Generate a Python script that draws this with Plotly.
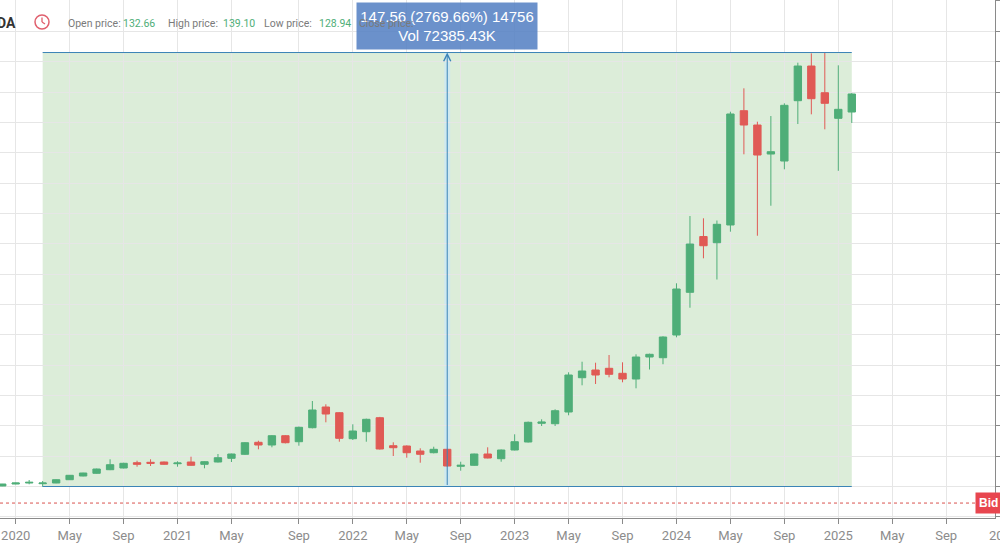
import plotly.graph_objects as go

# one slot per monthly candle (July 2021 shows up twice around the split)
periods = [
    "2019-12", "2020-01", "2020-02", "2020-03", "2020-04", "2020-05", "2020-06",
    "2020-07", "2020-08", "2020-09", "2020-10", "2020-11", "2020-12",
    "2021-01", "2021-02", "2021-03", "2021-04", "2021-05", "2021-06", "2021-07",
    "2021-07b", "2021-08", "2021-09", "2021-10", "2021-11", "2021-12",
    "2022-01", "2022-02", "2022-03", "2022-04", "2022-05", "2022-06",
    "2022-07", "2022-08", "2022-09", "2022-10", "2022-11", "2022-12",
    "2023-01", "2023-02", "2023-03", "2023-04", "2023-05", "2023-06",
    "2023-07", "2023-08", "2023-09", "2023-10", "2023-11", "2023-12",
    "2024-01", "2024-02", "2024-03", "2024-04", "2024-05", "2024-06",
    "2024-07", "2024-08", "2024-09", "2024-10", "2024-11", "2024-12",
    "2025-01", "2025-02",
]

open_ = [5.50, 6.18, 6.52, 6.28, 6.52, 7.64, 8.90, 9.82, 11.04, 11.62,
         13.42, 13.56, 13.66, 13.08, 13.66, 12.88, 13.66, 14.92, 16.28, 20.36,
         19.44, 22.60, 20.56, 25.32, 32.36, 30.42, 21.58, 23.96, 28.72, 19.20,
         19.10, 17.40, 16.82, 17.98, 12.20, 12.54, 16.38, 14.78, 17.74, 20.46,
         26.82, 26.68, 30.66, 42.32, 44.94, 45.52, 43.82, 41.88, 49.36, 49.12,
         56.84, 71.36, 90.33, 88.22, 94.25, 133.11, 128.24, 118.38, 116.00, 136.51,
         148.30, 139.22, 130.52, 132.66]
high = [6.20, 6.60, 7.54, 7.20, 7.75, 9.25, 10.00, 11.40, 14.58, 13.40,
        14.10, 14.58, 13.80, 13.90, 15.46, 13.90, 16.38, 16.50, 20.40, 20.90,
        22.80, 22.80, 25.70, 34.40, 33.28, 30.60, 26.48, 28.40, 29.00, 20.36,
        19.30, 18.32, 18.86, 18.10, 13.76, 16.50, 18.66, 17.90, 23.08, 27.40,
        28.18, 31.58, 44.16, 47.76, 47.42, 50.04, 47.56, 50.28, 50.50, 56.40,
        74.42, 97.30, 96.52, 95.77, 132.77, 140.72, 129.37, 131.30, 135.62, 149.43,
        152.60, 152.89, 148.54, 139.10]
low = [5.45, 6.10, 6.08, 5.26, 6.45, 7.55, 8.80, 9.70, 10.90, 11.50,
       12.06, 12.30, 12.75, 12.06, 12.40, 11.52, 13.50, 13.66, 16.10, 17.98,
       18.66, 20.00, 19.20, 25.10, 27.16, 20.56, 21.14, 20.56, 17.90, 15.70,
       15.12, 13.42, 16.60, 12.10, 10.70, 12.40, 14.90, 13.76, 17.60, 20.30,
       25.90, 25.90, 29.54, 39.74, 40.18, 42.46, 40.76, 38.72, 45.11, 46.91,
       56.06, 66.12, 82.92, 75.71, 91.97, 118.28, 90.60, 100.80, 113.18, 128.58,
       131.88, 126.78, 112.67, 128.94]
close = [6.18, 6.52, 6.76, 6.52, 7.64, 9.14, 9.92, 11.28, 12.74, 13.22,
         12.88, 13.22, 12.88, 13.32, 12.54, 13.76, 15.12, 16.38, 20.22, 19.44,
         22.60, 20.22, 25.46, 31.34, 29.98, 21.72, 24.20, 28.18, 18.08, 18.52,
         16.82, 16.28, 17.98, 12.30, 12.54, 16.38, 15.02, 17.74, 20.56, 27.16,
         27.26, 31.10, 43.24, 44.60, 43.24, 43.48, 41.88, 49.36, 50.28, 56.16,
         72.48, 87.78, 87.20, 94.48, 131.99, 128.24, 118.04, 119.17, 134.94, 148.30,
         137.19, 135.62, 133.58, 138.79]

# x-axis labels and the slot each one sits on
tick_slots = [1, 5, 9, 13, 17, 22, 26, 30, 34, 38, 42, 46, 50, 54, 58, 62, 66, 70]
tick_text = ["2020", "May", "Sep", "2021", "May", "Sep", "2022", "May", "Sep",
             "2023", "May", "Sep", "2024", "May", "Sep", "2025", "May", "Sep"]

# measuring tool: start/end slot and price levels
measure_slots = [3, 63]
measure_prices = [5.33, 152.89]
cursor_slot = 33
bid_level = -0.3
header = [("Open price:", "132.66"), ("High price:", "139.10"), ("Low price:", "128.94")]

GREEN = "#4fae78"
RED = "#e05a55"
BLUE = "#3b84b6"
W, H = 995, 518  # plot area in px


def px(x):
    return x / W


def py(y):
    return 1 - y / H


x = list(range(len(periods)))

fig = go.Figure()
fig.add_trace(go.Candlestick(
    x=x, open=open_, high=high, low=low, close=close, text=periods,
    increasing=dict(line=dict(color=GREEN, width=1), fillcolor=GREEN),
    decreasing=dict(line=dict(color=RED, width=1), fillcolor=RED),
    whiskerwidth=0, showlegend=False,
))

shapes = [
    dict(type="rect", xref="x", yref="y", layer="below",
         x0=measure_slots[0], x1=measure_slots[1],
         y0=measure_prices[0], y1=measure_prices[1],
         fillcolor="#dcedd9", line=dict(width=0)),
    dict(type="rect", xref="x", yref="y", layer="below",
         x0=cursor_slot - 0.22, x1=cursor_slot + 0.22,
         y0=measure_prices[0], y1=measure_prices[1],
         fillcolor="#cfe9ef", line=dict(width=0)),
    dict(type="line", xref="x", yref="y", x0=measure_slots[0], x1=measure_slots[1],
         y0=measure_prices[1], y1=measure_prices[1], line=dict(color=BLUE, width=1)),
    dict(type="line", xref="x", yref="y", x0=measure_slots[0], x1=measure_slots[1],
         y0=measure_prices[0], y1=measure_prices[0], line=dict(color=BLUE, width=1)),
    dict(type="line", xref="paper", yref="y", x0=0, x1=px(975),
         y0=bid_level, y1=bid_level, line=dict(color="#d9534f", width=1, dash="dot")),
    # clock icon
    dict(type="circle", xref="paper", yref="paper",
         x0=px(35), x1=px(49), y0=py(29), y1=py(15),
         line=dict(color="#e0606e", width=1.5)),
    dict(type="line", xref="paper", yref="paper", x0=px(42), x1=px(42),
         y0=py(22), y1=py(17.5), line=dict(color="#e0606e", width=1.3)),
    dict(type="line", xref="paper", yref="paper", x0=px(42), x1=px(45),
         y0=py(22), y1=py(24), line=dict(color="#e0606e", width=1.3)),
]

annotations = [
    dict(x=cursor_slot, y=measure_prices[1], ax=cursor_slot, ay=measure_prices[0],
         xref="x", yref="y", axref="x", ayref="y", text="", showarrow=True,
         arrowhead=5, arrowsize=1.4, arrowwidth=1, arrowcolor=BLUE),
    dict(x=cursor_slot, xref="x", y=py(2), yref="paper", xanchor="center", yanchor="top",
         text="147.56 (2769.66%) 14756<br>Vol 72385.43K", showarrow=False,
         width=176, height=42, bgcolor="rgba(86,130,196,0.88)",
         borderpad=2, font=dict(family="Arial", size=15, color="white")),
    dict(x=px(18), y=py(23), xref="paper", yref="paper", xanchor="right", yanchor="middle",
         text="<b>NVDA</b>", showarrow=False,
         font=dict(family="Roboto, Arial", size=14, color="#333333")),
    dict(x=px(975), y=bid_level, xref="paper", yref="y", xanchor="left", yanchor="middle",
         text="<b>Bid</b>", showarrow=False, bgcolor="#e8464f", borderpad=3,
         font=dict(family="Arial", size=12, color="white")),
]

label_x = [66, 166, 262]
for (label, value), lx in zip(header, label_x):
    annotations.append(dict(x=px(lx), y=py(23), xref="paper", yref="paper",
                            xanchor="left", yanchor="middle", text=label, showarrow=False,
                            font=dict(family="Roboto, Arial", size=10.5, color="#7a7a7a")))
    annotations.append(dict(x=px(lx + 55), y=py(23), xref="paper", yref="paper",
                            xanchor="left", yanchor="middle", text=value, showarrow=False,
                            font=dict(family="Roboto, Arial", size=10.5, color="#4fae78")))
annotations.append(dict(x=px(357), y=py(23), xref="paper", yref="paper",
                        xanchor="left", yanchor="middle", text="Close price:", showarrow=False,
                        font=dict(family="Roboto, Arial", size=10.5, color="#7a7a7a")))
annotations.append(dict(x=px(1003), y=-0.015, xref="paper", yref="paper",
                        xanchor="center", yanchor="top", text="2026", showarrow=False,
                        font=dict(family="Roboto, Arial", size=13, color="#8c8c8c")))

fig.update_layout(
    width=1000, height=545,
    margin=dict(l=0, r=5, t=0, b=27),
    paper_bgcolor="white", plot_bgcolor="white",
    shapes=shapes, annotations=annotations,
    boxgap=0.22, hovermode=False,
    xaxis=dict(
        range=[-0.163, 73.62], rangeslider=dict(visible=False),
        tickmode="array", tickvals=tick_slots, ticktext=tick_text,
        showgrid=True, gridcolor="#e6e6e6", gridwidth=1,
        showline=True, linecolor="#8a8a8a", linewidth=1,
        ticks="outside", ticklen=5, tickcolor="#8a8a8a",
        tickfont=dict(family="Roboto, Arial", size=13, color="#8c8c8c"),
        zeroline=False,
    ),
    yaxis=dict(
        range=[-5.38, 170.75], side="right",
        tick0=5.30, dtick=10.32, showticklabels=False,
        showgrid=True, gridcolor="#e6e6e6", gridwidth=1,
        showline=True, linecolor="#8a8a8a", linewidth=1,
        ticks="outside", ticklen=5, tickcolor="#8a8a8a",
        zeroline=False,
    ),
)

fig.write_html("out.html", config={"displayModeBar": False},
               post_script="document.body.style.margin='0';")
